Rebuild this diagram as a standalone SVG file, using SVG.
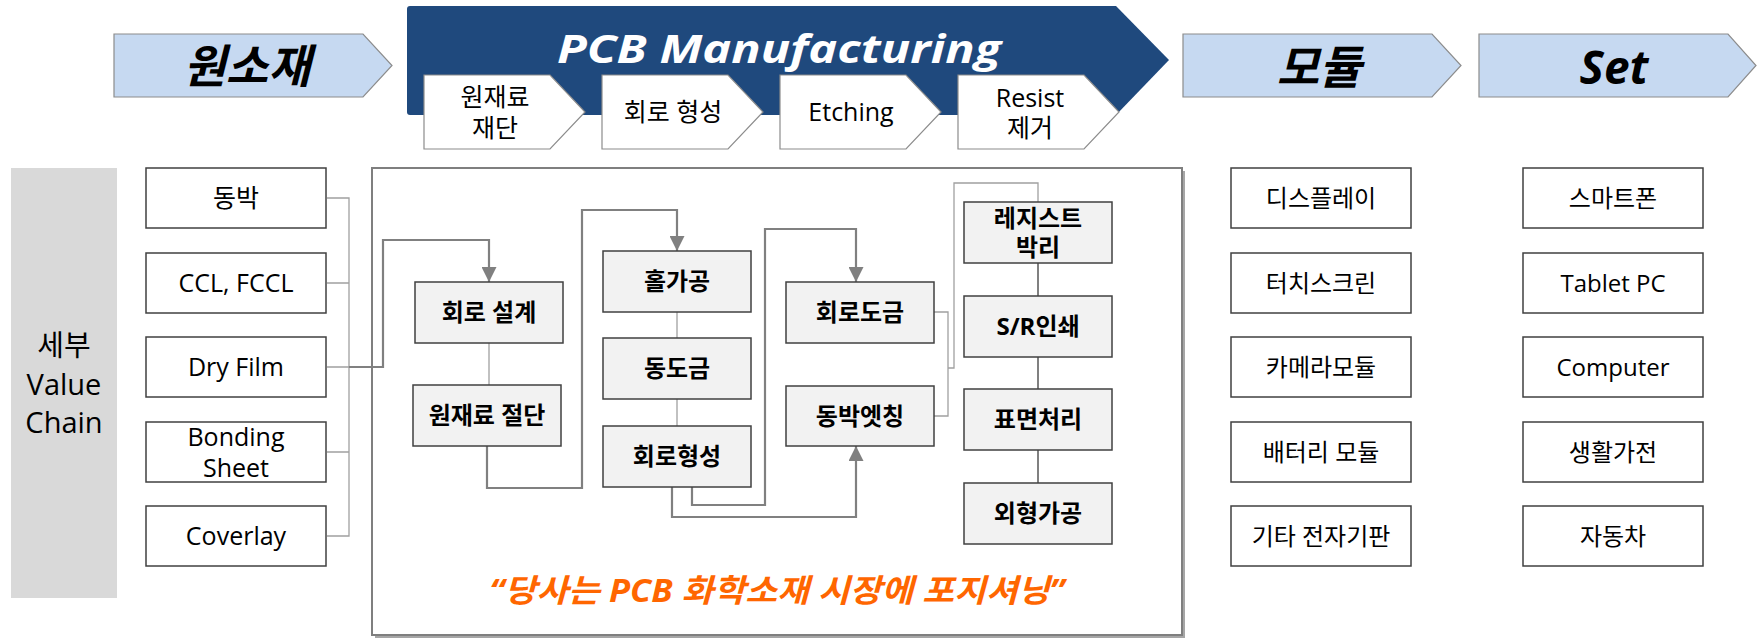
<svg xmlns="http://www.w3.org/2000/svg" width="1757" height="641" viewBox="0 0 1757 641">
<style>
text{font-family:"Open Sans","Noto Sans CJK KR",sans-serif;text-anchor:middle;fill:#000}
.hdr{fill:#C6D9F1;stroke:#8c8c8c;stroke-width:1.2}
.hdrt{font-size:46px;font-weight:700;font-style:italic}
.step{fill:#fff;stroke:#8c8c8c;stroke-width:1.2}
.stept{font-size:25px}
.box{fill:#fff;stroke:#404040;stroke-width:1.5}
.boxt{font-size:25px}
.rbt{font-size:24px}
.pbox{fill:#F2F2F2;stroke:#404040;stroke-width:1.5}
.pt{font-size:24px;font-weight:700}
.main{fill:none;stroke:#808080;stroke-width:2.2}
.thin{fill:none;stroke:#a0a0a0;stroke-width:1.3}
.col{fill:none;stroke:#808080;stroke-width:2}
</style>
<defs>
<marker id="arr" viewBox="0 0 14 14" refX="14" refY="7" markerWidth="15" markerHeight="15" markerUnits="userSpaceOnUse" orient="auto">
<path d="M0,0 L14,7 L0,14 z" fill="#808080"/>
</marker>
</defs>

<g id="hdr-raw">
<polygon class="hdr" points="114,34 363,34 392,65.5 363,97 114,97"/>
<text class="hdrt" x="247" y="83">원소재</text>
</g>
<g id="hdr-pcb">
<path d="M410,6 H1116 L1169,60 L1116,115 H410 Q407,115 407,112 V9 Q407,6 410,6 Z" fill="#1F497D"/>
<text x="557" y="63" style="font-size:40px;font-weight:700;font-style:italic;fill:#fff;text-anchor:start" textLength="444" lengthAdjust="spacingAndGlyphs">PCB Manufacturing</text>
</g>
<g id="step1">
<polygon class="step" points="424,75 550,75 585,112 550,149 424,149"/>
<text class="stept" x="495" y="106">원재료</text>
<text class="stept" x="495" y="137">재단</text>
</g>
<g id="step2">
<polygon class="step" points="602,75 728,75 763,112 728,149 602,149"/>
<text class="stept" x="673" y="121">회로 형성</text>
</g>
<g id="step3">
<polygon class="step" points="780,75 906,75 941,112 906,149 780,149"/>
<text class="stept" x="851" y="121">Etching</text>
</g>
<g id="step4">
<polygon class="step" points="958,75 1084,75 1119,112 1084,149 958,149"/>
<text class="stept" x="1030" y="107">Resist</text>
<text class="stept" x="1030" y="137">제거</text>
</g>
<g id="hdr-module">
<polygon class="hdr" points="1183,34 1432,34 1461,65.5 1432,97 1183,97"/>
<text class="hdrt" x="1319" y="84">모듈</text>
</g>
<g id="hdr-set">
<polygon class="hdr" points="1479,34 1728,34 1756,65.5 1728,97 1479,97"/>
<text class="hdrt" x="1614" y="84">Set</text>
</g>

<g id="side-label">
<rect x="11" y="168" width="106" height="430" fill="#D9D9D9"/>
<text x="64" y="356" style="font-size:29px">세부</text>
<text x="64" y="395" style="font-size:29px">Value</text>
<text x="64" y="433" style="font-size:29px">Chain</text>
</g>

<g id="mat-1"><rect class="box" x="146" y="168" width="180" height="60"/><text class="boxt" x="236" y="207">동박</text></g>
<g id="mat-2"><rect class="box" x="146" y="253" width="180" height="60"/><text class="boxt" x="236" y="292">CCL, FCCL</text></g>
<g id="mat-3"><rect class="box" x="146" y="337" width="180" height="60"/><text class="boxt" x="236" y="376">Dry Film</text></g>
<g id="mat-4"><rect class="box" x="146" y="422" width="180" height="60"/><text class="boxt" x="236" y="446">Bonding</text><text class="boxt" x="236" y="477">Sheet</text></g>
<g id="mat-5"><rect class="box" x="146" y="506" width="180" height="60"/><text class="boxt" x="236" y="545">Coverlay</text></g>

<g id="process-frame">
<rect x="375" y="171" width="810" height="467" fill="#a6a6a6"/>
<rect x="372" y="168" width="810" height="467" fill="#fff" stroke="#7f7f7f" stroke-width="2"/>
<text x="777" y="602" style="font-size:32px;font-weight:700;font-style:italic;fill:#FF6600" textLength="575" lengthAdjust="spacingAndGlyphs">“당사는 PCB 화학소재 시장에 포지셔닝”</text>
</g>

<g id="connectors">
<path class="thin" d="M327,198 H349 V536 H327 M327,283 H349 M327,452 H349 M327,367 H349"/>
<path class="main" d="M349,367 H383 V240 H489 V282" marker-end="url(#arr)"/>
<path class="thin" d="M489,343 V385"/>
<path class="main" d="M487,446 V488 H582 V210 H677 V251" marker-end="url(#arr)"/>
<path class="thin" d="M677,312 V338 M677,399 V426"/>
<path class="main" d="M692,487 V505 H765 V229 H856 V282" marker-end="url(#arr)"/>
<path class="main" d="M672,487 V517 H856 V446" marker-end="url(#arr)"/>
<path class="thin" d="M934,312 H948 V416 H934 M948,368 H954 V183 H1038 V202"/>
<path class="col" d="M1038,263 V296 M1038,357 V389 M1038,450 V483"/>
</g>

<g id="p-design"><rect class="pbox" x="415" y="282" width="148" height="61"/><text class="pt" x="489" y="321">회로 설계</text></g>
<g id="p-cut"><rect class="pbox" x="413" y="385" width="148" height="61"/><text class="pt" x="487" y="424">원재료 절단</text></g>
<g id="p-hole"><rect class="pbox" x="603" y="251" width="148" height="61"/><text class="pt" x="677" y="290">홀가공</text></g>
<g id="p-cuplate"><rect class="pbox" x="603" y="338" width="148" height="61"/><text class="pt" x="677" y="377">동도금</text></g>
<g id="p-circuit"><rect class="pbox" x="603" y="426" width="148" height="61"/><text class="pt" x="677" y="465">회로형성</text></g>
<g id="p-cplate"><rect class="pbox" x="786" y="282" width="148" height="61"/><text class="pt" x="860" y="321">회로도금</text></g>
<g id="p-etch"><rect class="pbox" x="786" y="386" width="148" height="60"/><text class="pt" x="860" y="425">동박엣칭</text></g>
<g id="p-strip"><rect class="pbox" x="964" y="202" width="148" height="61"/><text class="pt" x="1038" y="227">레지스트</text><text class="pt" x="1038" y="256">박리</text></g>
<g id="p-sr"><rect class="pbox" x="964" y="296" width="148" height="61"/><text class="pt" x="1038" y="335">S/R인쇄</text></g>
<g id="p-surface"><rect class="pbox" x="964" y="389" width="148" height="61"/><text class="pt" x="1038" y="428">표면처리</text></g>
<g id="p-outline"><rect class="pbox" x="964" y="483" width="148" height="61"/><text class="pt" x="1038" y="522">외형가공</text></g>

<g id="mod-1"><rect class="box" x="1231" y="168" width="180" height="60"/><text class="rbt" x="1321" y="206.5">디스플레이</text></g>
<g id="mod-2"><rect class="box" x="1231" y="253" width="180" height="60"/><text class="rbt" x="1321" y="291.5">터치스크린</text></g>
<g id="mod-3"><rect class="box" x="1231" y="337" width="180" height="60"/><text class="rbt" x="1321" y="375.5">카메라모듈</text></g>
<g id="mod-4"><rect class="box" x="1231" y="422" width="180" height="60"/><text class="rbt" x="1321" y="460.5">배터리 모듈</text></g>
<g id="mod-5"><rect class="box" x="1231" y="506" width="180" height="60"/><text class="rbt" x="1321" y="544.5">기타 전자기판</text></g>

<g id="set-1"><rect class="box" x="1523" y="168" width="180" height="60"/><text class="rbt" x="1613" y="206.5">스마트폰</text></g>
<g id="set-2"><rect class="box" x="1523" y="253" width="180" height="60"/><text class="rbt" x="1613" y="291.5">Tablet PC</text></g>
<g id="set-3"><rect class="box" x="1523" y="337" width="180" height="60"/><text class="rbt" x="1613" y="375.5">Computer</text></g>
<g id="set-4"><rect class="box" x="1523" y="422" width="180" height="60"/><text class="rbt" x="1613" y="460.5">생활가전</text></g>
<g id="set-5"><rect class="box" x="1523" y="506" width="180" height="60"/><text class="rbt" x="1613" y="544.5">자동차</text></g>
</svg>
